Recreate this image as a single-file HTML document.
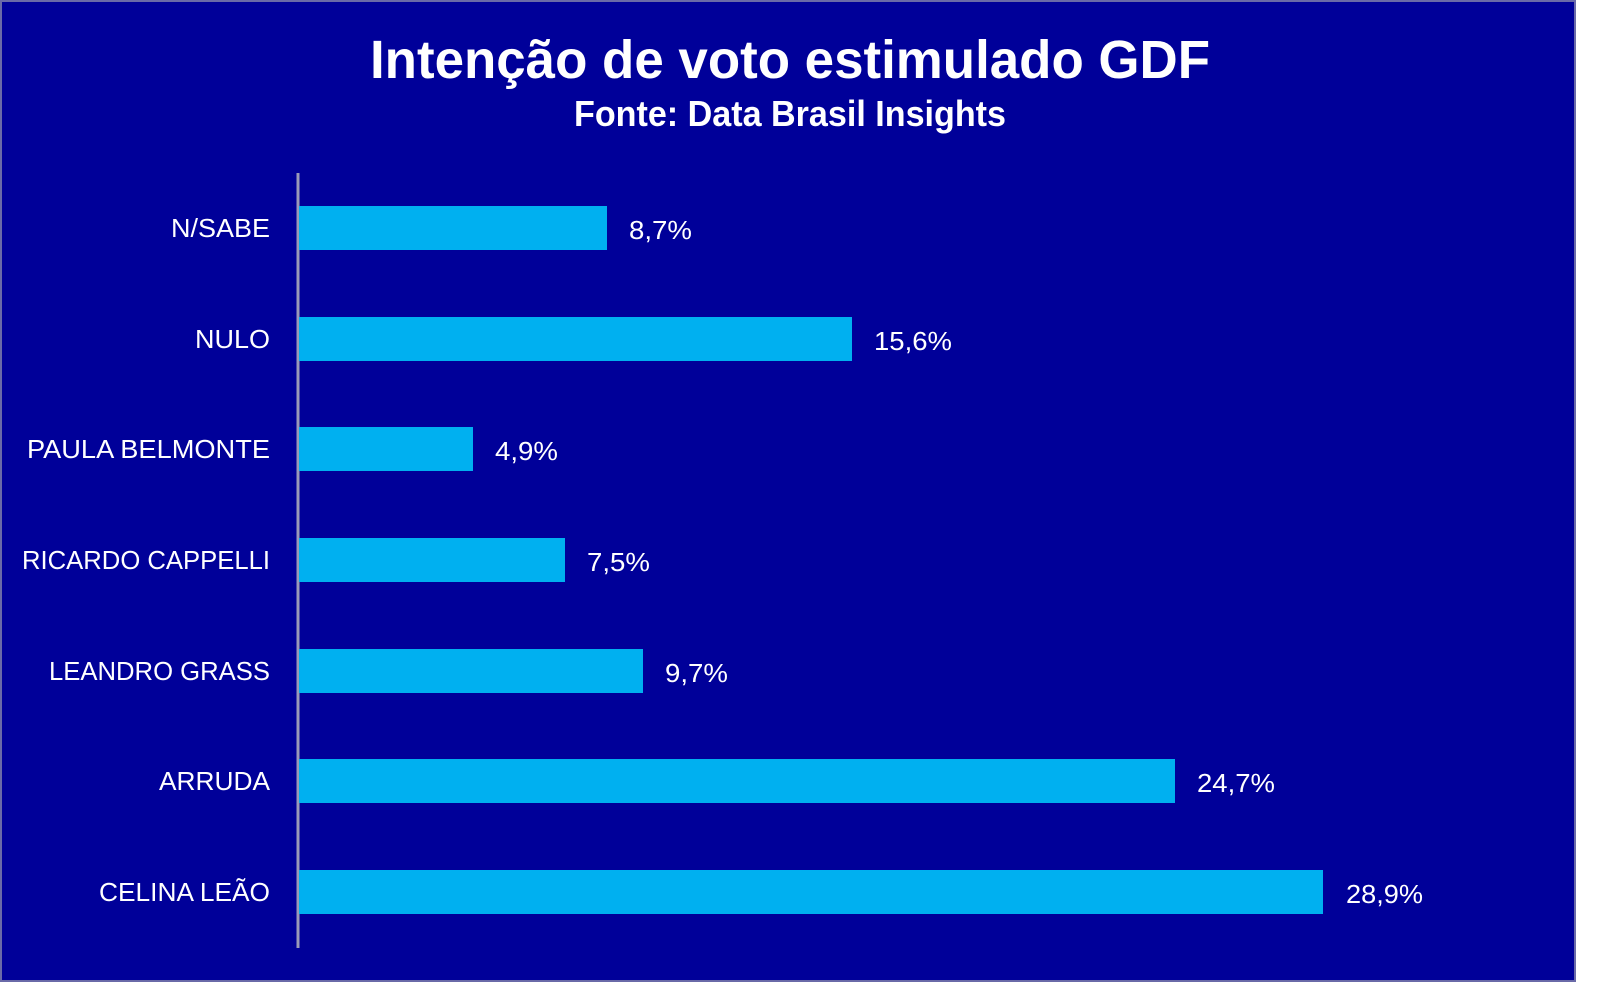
<!DOCTYPE html>
<html><head><meta charset="utf-8"><style>
html,body{margin:0;padding:0;background:#fff;width:1600px;height:1006px;overflow:hidden}
svg{display:block}
</style></head><body>
<svg width="1600" height="1006" xmlns="http://www.w3.org/2000/svg">
<rect x="0" y="0" width="1600" height="1006" fill="#fff"/>
<rect x="1" y="1" width="1574" height="980" fill="#000099" stroke="#6a6aa8" stroke-width="2"/>
<text x="790" y="78" text-anchor="middle" font-family="Liberation Sans, sans-serif" font-weight="bold" font-size="54" fill="#fff" textLength="840" lengthAdjust="spacingAndGlyphs">Intenção de voto estimulado GDF</text>
<text x="790" y="126" text-anchor="middle" font-family="Liberation Sans, sans-serif" font-weight="bold" font-size="36" fill="#fff" textLength="432" lengthAdjust="spacingAndGlyphs">Fonte: Data Brasil Insights</text>
<line x1="298" y1="173" x2="298" y2="948" stroke="#9a9ab8" stroke-width="3"/>
<g fill="#00B0F0">
<rect x="299" y="206" width="308" height="44"/>
<rect x="299" y="317" width="553" height="44"/>
<rect x="299" y="427" width="174" height="44"/>
<rect x="299" y="538" width="266" height="44"/>
<rect x="299" y="649" width="344" height="44"/>
<rect x="299" y="759" width="876" height="44"/>
<rect x="299" y="870" width="1024" height="44"/>
</g>
<g font-family="Liberation Sans, sans-serif" font-size="26" fill="#fff" text-anchor="end">
<text x="270" y="237" textLength="99" lengthAdjust="spacingAndGlyphs">N/SABE</text>
<text x="270" y="348" textLength="75" lengthAdjust="spacingAndGlyphs">NULO</text>
<text x="270" y="458" textLength="243" lengthAdjust="spacingAndGlyphs">PAULA BELMONTE</text>
<text x="270" y="569" textLength="248" lengthAdjust="spacingAndGlyphs">RICARDO CAPPELLI</text>
<text x="270" y="680" textLength="221" lengthAdjust="spacingAndGlyphs">LEANDRO GRASS</text>
<text x="270" y="790" textLength="111" lengthAdjust="spacingAndGlyphs">ARRUDA</text>
<text x="270" y="901" textLength="171" lengthAdjust="spacingAndGlyphs">CELINA LEÃO</text>
</g>
<g font-family="Liberation Sans, sans-serif" font-size="26" fill="#fff">
<text x="629" y="239" textLength="63" lengthAdjust="spacingAndGlyphs">8,7%</text>
<text x="874" y="350" textLength="78" lengthAdjust="spacingAndGlyphs">15,6%</text>
<text x="495" y="460" textLength="63" lengthAdjust="spacingAndGlyphs">4,9%</text>
<text x="587" y="571" textLength="63" lengthAdjust="spacingAndGlyphs">7,5%</text>
<text x="665" y="682" textLength="63" lengthAdjust="spacingAndGlyphs">9,7%</text>
<text x="1197" y="792" textLength="78" lengthAdjust="spacingAndGlyphs">24,7%</text>
<text x="1346" y="903" textLength="77" lengthAdjust="spacingAndGlyphs">28,9%</text>
</g>
</svg>
</body></html>
